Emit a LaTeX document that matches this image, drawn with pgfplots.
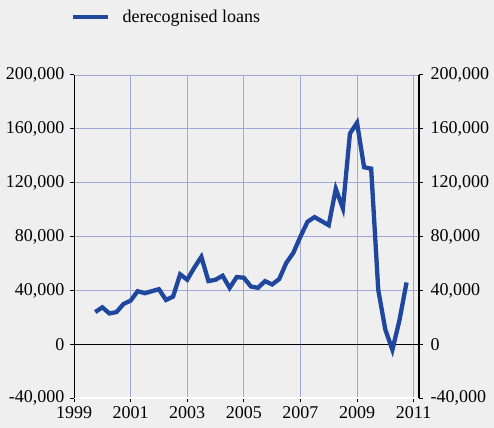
\documentclass[border=0pt]{standalone}
\usepackage{fontspec}
\setmainfont{Liberation Serif}
\usepackage{pgfplots}
\pgfplotsset{compat=1.18}
\definecolor{bg}{RGB}{239,239,239}
\definecolor{gridc}{RGB}{160,168,216}
\definecolor{lineblue}{RGB}{31,71,158}
\pgfplotstableread{
x y
1999.75 24000
2000.00 27500
2000.25 23000
2000.50 24000
2000.75 30000
2001.00 32500
2001.25 39500
2001.50 38000
2001.75 39500
2002.00 41000
2002.25 33000
2002.50 35500
2002.75 52000
2003.00 48000
2003.25 57000
2003.50 65000
2003.75 47000
2004.00 48000
2004.25 51000
2004.50 42000
2004.75 50000
2005.00 49500
2005.25 43000
2005.50 42000
2005.75 47000
2006.00 44500
2006.25 48500
2006.50 60500
2006.75 68000
2007.00 80000
2007.25 91000
2007.50 94500
2007.75 91500
2008.00 88500
2008.25 115500
2008.50 101000
2008.75 156500
2009.00 164500
2009.25 131500
2009.50 130500
2009.75 40500
2010.00 11000
2010.25 -4000
2010.50 18000
2010.75 46000
}\loans
\begin{document}
\begin{tikzpicture}
\useasboundingbox (0,0) rectangle (494bp,428bp);
\fill[bg] (0,0) rectangle (494bp,428bp);
\pgfplotsset{
  common/.style={
    at={(74bp,29.7bp)}, anchor=south west,
    scale only axis, width=345bp, height=323.3bp,
    xmin=1999, xmax=2011.19, ymin=-40000, ymax=200000,
    scaled y ticks=false, scaled x ticks=false,
    xtick={1999,2001,2003,2005,2007,2009,2011},
    xticklabels={1999,2001,2003,2005,2007,2009,2011},
    ytick={-40000,0,40000,80000,120000,160000,200000},
    yticklabels={{-40,000},{0},{40,000},{80,000},{120,000},{160,000},{200,000}},
    tick label style={font=\fontsize{18bp}{20bp}\selectfont, text=black},
    tick align=outside,
    major tick length=4bp,
    tick style={black, line width=1bp},
  }
}
\begin{axis}[common,
  axis x line*=bottom, axis y line*=left,
  x axis line style={white, line width=2bp, -},
  y axis line style={black, line width=1bp, -},
  grid=major, grid style={gridc, line width=0.9bp},
  yticklabel style={xshift=-2bp},
  xticklabel style={yshift=-1bp},
  extra y ticks={0}, extra y tick labels={},
  extra y tick style={grid style={black, line width=1.3bp}, major tick length=0pt},
  legend style={draw=none, fill=none, at={(0,1)}, anchor=west,
    xshift=-6bp, yshift=58bp, font=\fontsize{18bp}{20bp}\selectfont,
    legend cell align=left},
  legend image code/.code={\draw[#1, line width=4.5bp] (0bp,0bp) -- (35bp,0bp); \path (45bp,0bp);},
]
\addplot[lineblue, line width=4.3bp, line join=miter] table {\loans};
\addlegendentry{derecognised loans}
\end{axis}
\begin{axis}[common,
  axis x line=none, axis y line*=right,
  y axis line style={black, line width=1.3bp, -},
  yticklabel style={xshift=4bp},
]
\addplot[draw=none] coordinates {(2000,0)};
\end{axis}
\end{tikzpicture}
\end{document}
